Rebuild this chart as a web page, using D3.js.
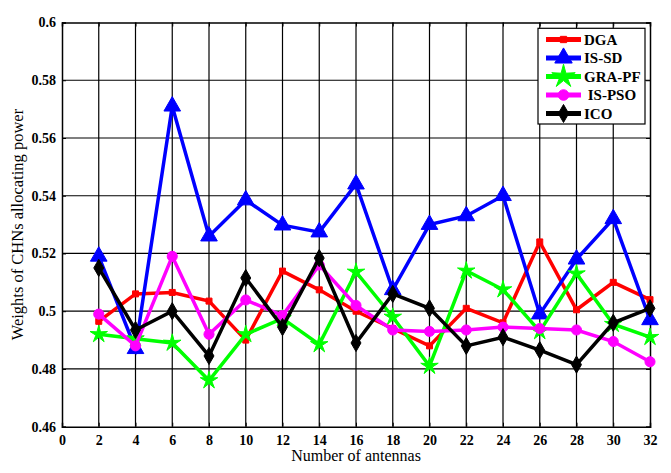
<!DOCTYPE html>
<html><head><meta charset="utf-8">
<script src="https://cdn.jsdelivr.net/npm/d3@7"></script>
<style>body{margin:0;background:#fff}svg{display:block}svg text{font-family:"Liberation Serif","Times New Roman",serif;}</style>
</head><body>
<svg id="c" width="671" height="473"></svg>
<script>
const antennas = [2,4,6,8,10,12,14,16,18,20,22,24,26,28,30,32];
const DGA    = [0.4965,0.506,0.5065,0.5035,0.490,0.5139,0.5074,0.500,0.494,0.488,0.501,0.496,0.524,0.5005,0.510,0.504];
const ISSD   = [0.519,0.487,0.571,0.526,0.5385,0.5298,0.5274,0.544,0.5074,0.530,0.533,0.540,0.499,0.518,0.532,0.497];
const GRAPF  = [0.492,0.4905,0.489,0.476,0.492,0.4975,0.4885,0.5136,0.498,0.481,0.514,0.5075,0.493,0.513,0.4955,0.491];
const ISPSO  = [0.499,0.488,0.519,0.492,0.5039,0.4985,0.516,0.502,0.4935,0.493,0.4935,0.4945,0.494,0.4935,0.4895,0.4825];
const ICO    = [0.515,0.4935,0.500,0.4845,0.5115,0.4945,0.5184,0.489,0.506,0.501,0.488,0.491,0.4865,0.4815,0.496,0.501];
const seriesNames = ["DGA","IS-SD","GRA-PF","IS-PSO","ICO"];
const legendLabels = ["DGA","IS-SD","GRA-PF"," IS-PSO","ICO"];
const xTicks = d3.range(0,33,2);
const yTicks = [0.46,0.48,0.5,0.52,0.54,0.56,0.58,0.6];
const yTickLabels = ["0.46","0.48","0.5","0.52","0.54","0.56","0.58","0.6"];

const colors = ["#ff0000","#0000ff","#00ff00","#ff00ff","#000000"];
const data = [DGA, ISSD, GRAPF, ISPSO, ICO];

// custom thin star
const thinStar = {draw(ctx, size){
  const r = Math.sqrt(size)*0.75, ri = r*0.33;
  for(let i=0;i<10;i++){
    const a = -Math.PI/2 + i*Math.PI/5, rr = i%2?ri:r;
    const px = Math.cos(a)*rr, py = Math.sin(a)*rr;
    i?ctx.lineTo(px,py):ctx.moveTo(px,py);
  }
  ctx.closePath();
}};
const symbols = [d3.symbolSquare, d3.symbolTriangle, thinStar, d3.symbolCircle, d3.symbolDiamond];
const sizes = [36, 120, 150, 80, 85];

const svg = d3.select("#c");
const L=62, R=650, T=22.5, B=426.7;
const x = d3.scaleLinear().domain([0,32]).range([L,R]);
const y = d3.scaleLinear().domain([0.46,0.6]).range([B,T]);

const font = "Liberation Serif";

// grid
const g = svg.append("g");
g.selectAll(".vx").data(xTicks.slice(1,-1)).enter().append("line")
  .attr("x1",d=>x(d)).attr("x2",d=>x(d)).attr("y1",T).attr("y2",B)
  .attr("stroke","#000").attr("stroke-width",1.2);
g.selectAll(".hy").data(yTicks.slice(1,-1)).enter().append("line")
  .attr("x1",L).attr("x2",R).attr("y1",d=>y(d)).attr("y2",d=>y(d))
  .attr("stroke","#000").attr("stroke-width",1.2);

// axes
const xAxis = svg.append("g").attr("transform",`translate(0,${B})`)
  .call(d3.axisBottom(x).tickValues(xTicks).tickSize(-4).tickPadding(8).tickFormat(d3.format("d")));
const xTop = svg.append("g").attr("transform",`translate(0,${T})`)
  .call(d3.axisTop(x).tickValues(xTicks).tickSize(-4).tickFormat(""));
const yAxis = svg.append("g").attr("transform",`translate(${L},0)`)
  .call(d3.axisLeft(y).tickValues(yTicks).tickSize(-4).tickPadding(6).tickFormat((d,i)=>yTickLabels[i]));
const yRight = svg.append("g").attr("transform",`translate(${R},0)`)
  .call(d3.axisRight(y).tickValues(yTicks).tickSize(-4).tickFormat(""));
[xAxis,xTop,yAxis,yRight].forEach(a=>{
  a.attr("font-family",font);
  a.selectAll("path.domain").attr("stroke","#000").attr("stroke-width",1.5);
  a.selectAll(".tick line").attr("stroke","#000").attr("stroke-width",1);
  a.selectAll("text").style("font-family",font).attr("font-weight","bold").attr("font-size",14).attr("fill","#000");
});

// lines
const line = d3.line().x((d,i)=>x(antennas[i])).y(d=>y(d));
data.forEach((s,k)=>{
  const gg = svg.append("g");
  gg.append("path").datum(s).attr("d",line).attr("fill","none")
    .attr("stroke",colors[k]).attr("stroke-width",3.5).attr("stroke-linejoin","miter");
  gg.selectAll("path.m").data(s).enter().append("path").attr("class","m")
    .attr("transform",(d,i)=>`translate(${x(antennas[i])},${y(d)})`)
    .attr("d",d3.symbol().type(symbols[k]).size(sizes[k]))
    .attr("fill",colors[k]).attr("stroke",colors[k]).attr("stroke-width",1);
});

// axis titles
svg.append("text").attr("x",(L+R)/2).attr("y",461).attr("text-anchor","middle")
  .style("font-family",font).attr("font-size",16).text("Number of antennas");
svg.append("text").attr("transform",`translate(23,${(T+B)/2}) rotate(-90)`).attr("text-anchor","middle")
  .style("font-family",font).attr("font-size",16.5).text("Weights of CHNs allocating power");

// legend
const lg = svg.append("g");
lg.append("rect").attr("x",538).attr("y",28.3).attr("width",107).attr("height",95.7)
  .attr("fill","#fff").attr("stroke","#000").attr("stroke-width",1.2);
seriesNames.forEach((n,k)=>{
  const yy = 39.5 + k*18.5;
  lg.append("line").attr("x1",546).attr("x2",581).attr("y1",yy).attr("y2",yy)
    .attr("stroke",colors[k]).attr("stroke-width",5);
  lg.append("path").attr("transform",`translate(563.5,${yy})`)
    .attr("d",d3.symbol().type(symbols[k]).size(sizes[k]*(k===2?1.8:1.1)))
    .attr("fill",colors[k]).attr("stroke",colors[k]);
  lg.append("text").attr("x",584).attr("y",yy+5).style("font-family",font).attr("font-weight","bold")
    .attr("font-size",15).style("white-space","pre").text(legendLabels[k]);
});
</script>
</body></html>
